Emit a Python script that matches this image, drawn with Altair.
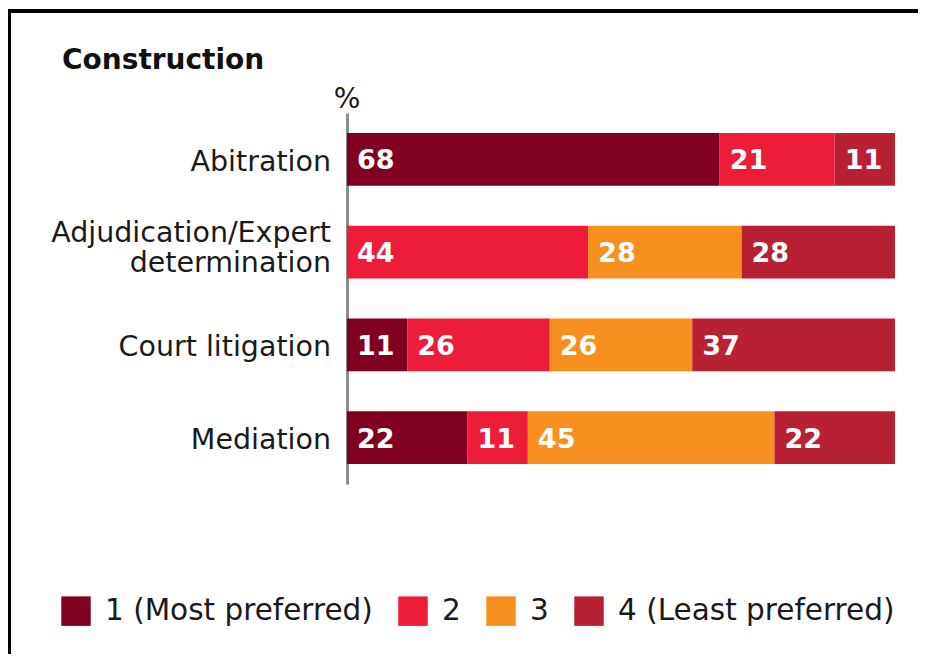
import altair as alt
import pandas as pd

methods = ["Abitration", "Adjudication/Expert determination", "Court litigation", "Mediation"]
method_lines = [["Abitration"], ["Adjudication/Expert", "determination"], ["Court litigation"], ["Mediation"]]
ranks = ["1 (Most preferred)", "2", "3", "4 (Least preferred)"]
colors = ["#7f0020", "#ed1c38", "#f7901e", "#b82134"]
rank1 = [68, 0, 11, 22]
rank2 = [21, 44, 26, 11]
rank3 = [0, 28, 26, 45]
rank4 = [11, 28, 37, 22]

rows = []
for i, m in enumerate(methods):
    for r, (name, vals) in enumerate(zip(ranks, [rank1, rank2, rank3, rank4])):
        rows.append({"method": m, "rank": name, "order": r, "value": vals[i]})
df = pd.DataFrame(rows)

line_rows = []
for m, lines in zip(methods, method_lines):
    for j, t in enumerate(lines):
        line_rows.append({"method": m, "text": t, "line": j, "n": len(lines)})
lab_df = pd.DataFrame(line_rows)

W, H = 548, 371
PL, PT, PR, PB = 339, 105, 23, 170
FONT = "DejaVu Sans"

yscale = alt.Scale(domain=methods, paddingInner=0.43, paddingOuter=0.215)
Y = alt.Y("method:N", scale=yscale, sort=methods)

base = alt.Chart(df).transform_stack(
    stack="value", groupby=["method"], as_=["v0", "v1"],
    sort=[alt.SortField("order", order="ascending")]
)

bars = base.mark_bar().encode(
    y=alt.Y("method:N", scale=yscale, sort=methods,
            axis=alt.Axis(labels=False, ticks=False, title=None, domain=True,
                          domainColor="#8c8c8c", domainWidth=3, grid=False)),
    x=alt.X("v0:Q", scale=alt.Scale(domain=[0, 100], nice=False), axis=None),
    x2="v1:Q",
    color=alt.Color("rank:N", scale=alt.Scale(domain=ranks, range=colors),
                    legend=alt.Legend(orient="none", legendX=-286, legendY=483,
                                      direction="horizontal", title=None,
                                      symbolType="square", symbolSize=870,
                                      symbolStrokeWidth=0, labelFont=FONT,
                                      labelFontSize=29.5, labelColor="#1a1a1a",
                                      labelOffset=14, columnPadding=25,
                                      labelLimit=400)),
)

labels = base.transform_filter("datum.value > 0").mark_text(
    align="left", baseline="alphabetic", dx=10, dy=10, font=FONT, fontSize=27,
    fontWeight="bold", color="white"
).encode(y=Y, x=alt.X("v0:Q"), text=alt.Text("value:Q"))

lab_style = dict(align="right", baseline="alphabetic", font=FONT, fontSize=28.5,
                 color="#1a1a1a")
lab_base = alt.Chart(lab_df).encode(y=Y, x=alt.value(-16), text="text:N")
single = lab_base.transform_filter("datum.n == 1").mark_text(dy=11.5, **lab_style)
first = lab_base.transform_filter("datum.n == 2 && datum.line == 0").mark_text(dy=-10, **lab_style)
second = lab_base.transform_filter("datum.n == 2 && datum.line == 1").mark_text(dy=20, **lab_style)

title_df = pd.DataFrame({"t": ["Construction"]})
title = alt.Chart(title_df).mark_text(
    align="left", baseline="alphabetic", font=FONT, fontSize=28, fontWeight="bold",
    color="#111111"
).encode(x=alt.value(-285), y=alt.value(-44), text="t:N")

pct_df = pd.DataFrame({"t": ["%"]})
pct = alt.Chart(pct_df).mark_text(
    align="center", baseline="alphabetic", font=FONT, fontSize=28, color="#1a1a1a"
).encode(x=alt.value(0), y=alt.value(-5), text="t:N")

frame_left = alt.Chart(title_df).mark_rule(color="black", strokeWidth=4).encode(
    x=alt.value(-338), y=alt.value(-104), y2=alt.value(H + PB + 5)
)
frame_top = alt.Chart(title_df).mark_rule(color="black", strokeWidth=4).encode(
    x=alt.value(-340), x2=alt.value(W + PR + 5), y=alt.value(-102)
)

chart = alt.layer(bars, labels, single, first, second, title, pct,
                  frame_left, frame_top).properties(
    width=W, height=H,
    autosize=alt.AutoSizeParams(type="none"),
    padding={"left": PL, "top": PT, "right": PR, "bottom": PB},
).configure_view(stroke=None)

chart.save("out.html", embed_options={"renderer": "svg", "actions": False})
